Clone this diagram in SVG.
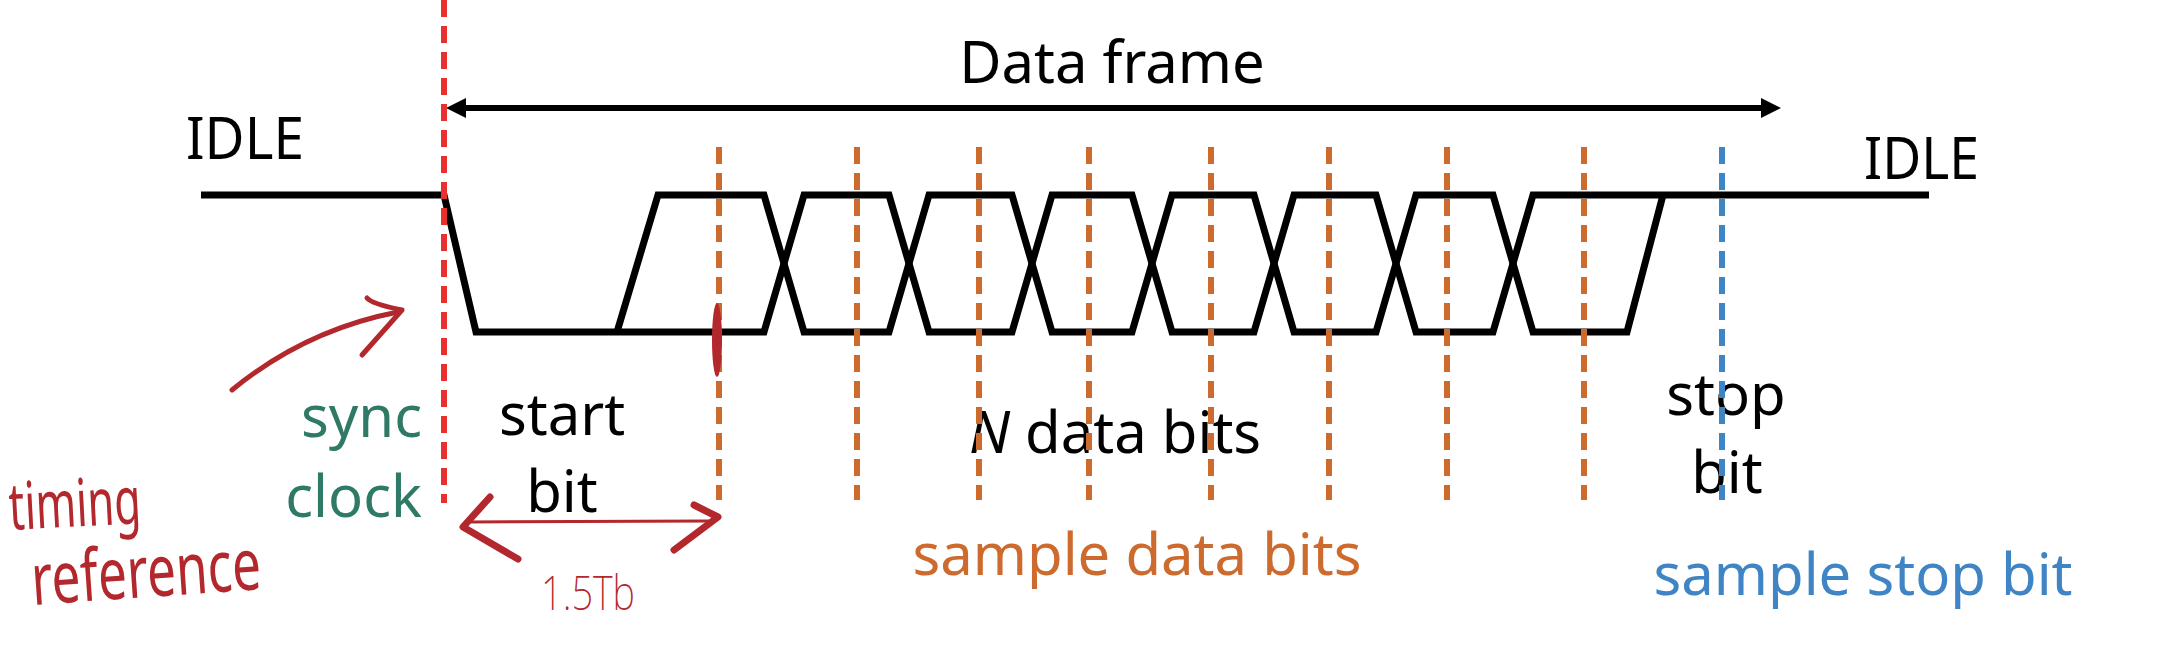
<svg xmlns="http://www.w3.org/2000/svg" width="2157" height="652" viewBox="0 0 2157 652">
  <defs>
    <style>
      .t { font-family: "Noto Sans", "Open Sans", "DejaVu Sans", sans-serif; font-size: 58px; }
      .blk { fill: #000; }
      .grn { fill: #2f7a66; }
      .org { fill: #cd6a2d; }
      .blu { fill: #3f84c4; }
      .hand { font-family: "Noto Sans", "DejaVu Sans", sans-serif; fill: #b3282d; }
      .wave { fill: none; stroke: #000; stroke-width: 7; stroke-linejoin: miter; stroke-linecap: butt; }
      .dash { fill: none; stroke-width: 6; stroke-dasharray: 17 9; }
      .red { stroke: #e8312f; }
      .od { stroke: #cd6a2d; }
      .bd { stroke: #3f84c4; }
      .ink { fill: none; stroke: #b3282d; stroke-linecap: round; stroke-linejoin: round; }
    </style>
  </defs>
  <rect width="2157" height="652" fill="#fff"/>

  <g id="waveform">
    <path class="wave" d="M201,195 H444 L476,332 H764 L804,195 H889 L929,332 H1012 L1052,195 H1132 L1172,332 H1254 L1294,195 H1376 L1416,332 H1493 L1533,195 H1929"/>
    <path class="wave" d="M617,332 L658,195 H764 L804,332 H889 L929,195 H1012 L1052,332 H1132 L1172,195 H1254 L1294,332 H1376 L1416,195 H1493 L1533,332 H1627 L1663,195"/>
  </g>

  <g id="labels">
    <text class="t blk" x="186" y="159" textLength="118" lengthAdjust="spacingAndGlyphs">IDLE</text>
    <text class="t blk" x="1864" y="179" textLength="115" lengthAdjust="spacingAndGlyphs">IDLE</text>
    <text class="t blk" x="1112" y="83" text-anchor="middle">Data frame</text>
    <text class="t grn" x="422" y="437" text-anchor="end">sync</text>
    <text class="t grn" x="422" y="517" text-anchor="end">clock</text>
    <text class="t blk" x="562" y="435" text-anchor="middle">start</text>
    <text class="t blk" x="562" y="512" text-anchor="middle">bit</text>
    <text class="t blk" x="1115" y="453" text-anchor="middle"><tspan font-style="italic">N</tspan> data bits</text>
    <text class="t org" x="1137" y="575" text-anchor="middle">sample data bits</text>
    <text class="t blk" x="1726" y="415" text-anchor="middle">stop</text>
    <text class="t blk" x="1727" y="493" text-anchor="middle">bit</text>
    <text class="t blu" x="1863" y="595" text-anchor="middle">sample stop bit</text>
  </g>

  <g id="connectors">
    <g id="data-frame-arrow">
      <line x1="462" y1="108" x2="1765" y2="108" stroke="#000" stroke-width="6"/>
      <polygon points="446,108 466,98 466,118" fill="#000"/>
      <polygon points="1781,108 1761,98 1761,118" fill="#000"/>
    </g>
    <line class="dash red" x1="444" y1="0" x2="444" y2="503"/>
    <line class="dash od" x1="719" y1="147" x2="719" y2="500"/>
    <line class="dash od" x1="857" y1="147" x2="857" y2="500"/>
    <line class="dash od" x1="979" y1="147" x2="979" y2="500"/>
    <line class="dash od" x1="1089" y1="147" x2="1089" y2="500"/>
    <line class="dash od" x1="1211" y1="147" x2="1211" y2="500"/>
    <line class="dash od" x1="1329" y1="147" x2="1329" y2="500"/>
    <line class="dash od" x1="1447" y1="147" x2="1447" y2="500"/>
    <line class="dash od" x1="1584" y1="147" x2="1584" y2="500"/>
    <line class="dash bd" x1="1722" y1="147" x2="1722" y2="500"/>
  </g>

  <g id="annotations">
    <path class="ink" stroke-width="5" d="M232,390 Q305,330 398,312"/>
    <path class="ink" stroke-width="5" d="M367,298 Q372,304 402,310 L362,355"/>
    <ellipse cx="717" cy="340" rx="5" ry="37" fill="#b3282d"/>
    <line class="ink" stroke-width="3" x1="470" y1="522" x2="708" y2="521"/>
    <path class="ink" stroke-width="7" d="M490,497 L463,527 L518,559"/>
    <path class="ink" stroke-width="7" d="M694,505 L718,517 L674,550"/>
    <text class="hand" x="541" y="610" font-size="48" font-weight="200" textLength="94" lengthAdjust="spacingAndGlyphs">1.5Tb</text>
    <text class="hand" x="10" y="530" font-size="66" textLength="132" lengthAdjust="spacingAndGlyphs" transform="rotate(-3 10 530)">timing</text>
    <text class="hand" x="33" y="605" font-size="72" textLength="230" lengthAdjust="spacingAndGlyphs" transform="rotate(-4 33 605)">reference</text>
  </g>
</svg>
